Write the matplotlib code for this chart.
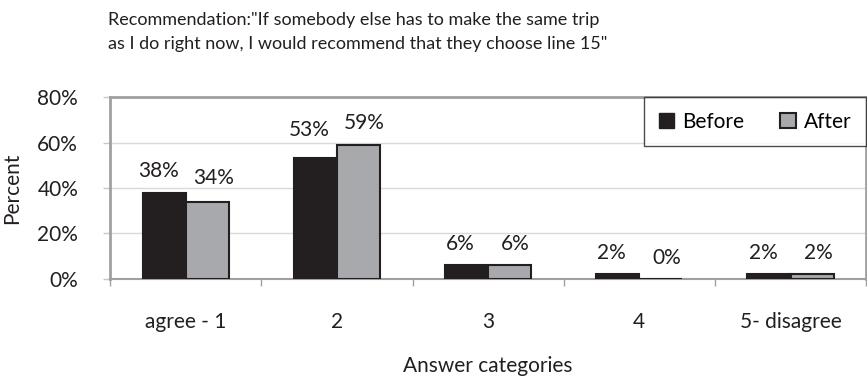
import matplotlib
matplotlib.use("Agg")
import matplotlib.pyplot as plt
import numpy as np
from matplotlib.patches import Patch

categories = ["agree - 1", "2", "3", "4", "5- disagree"]
before = [38, 53, 6, 2, 2]
after = [34, 59, 6, 0, 2]
yticks = [0, 20, 40, 60, 80]

plt.rcParams['font.family'] = ['Lato', 'DejaVu Sans']

fig = plt.figure(figsize=(8.67, 3.76), dpi=100)
ax = fig.add_axes([0.127, 0.258, 0.872, 0.484])

x = np.arange(len(categories))
w = 0.285
c_before = "#231f20"
c_after = "#a7a9ac"
fs = 15
ax.bar(x - w/2, before, w, color=c_before, edgecolor=c_before, linewidth=1.5, zorder=3)
ax.bar(x + w/2, after, w, color=c_after, edgecolor=c_before, linewidth=1.5, zorder=3)

dx = 0.04
for xi, v, o in zip(x, before, after):
    ax.text(xi - w/2 - dx, max(v, o - 3) + 5, f"{v}%", ha="center", va="bottom",
            fontsize=fs, color="#231f20")
for xi, v, o in zip(x, after, before):
    ax.text(xi + w/2 + dx, max(v, o - 3) + 5, f"{v}%", ha="center", va="bottom",
            fontsize=fs, color="#231f20")

ax.set_xlim(-0.5, len(categories) - 0.5)
ax.set_ylim(0, 80)
ax.set_yticks(yticks)
ax.set_yticklabels([f"{t}%" for t in yticks], fontsize=fs, color="#231f20")
ax.set_xticks(x)
ax.set_xticklabels(categories, fontsize=fs, color="#231f20")
ax.tick_params(axis="x", length=0, pad=24)
ax.set_xticks(np.arange(len(categories) + 1) - 0.5, minor=True)
ax.tick_params(axis="x", which="minor", length=5, color="#a0a0a0", width=1)
ax.tick_params(axis="y", length=5, color="#c8c8c8", width=1, pad=18)
ax.yaxis.grid(True, color="#d9d9d9", linewidth=1, zorder=0)
for s in ax.spines.values():
    s.set_color("#a0a0a0")
    s.set_linewidth(2)
ax.spines["bottom"].set_linewidth(1.5)

ax.set_ylabel("Percent", fontsize=fs, color="#231f20", labelpad=11)
ax.set_xlabel("Answer categories", fontsize=fs, color="#231f20", labelpad=17)

fig.text(0.124, 0.915, 'Recommendation:"If somebody else has to make the same trip\nas I do right now, I would recommend that they choose line 15"',
         fontsize=13, color="#231f20", ha="left", va="center", linespacing=1.6)

handles = [Patch(facecolor=c_before, edgecolor=c_before, label="Before"),
           Patch(facecolor=c_after, edgecolor=c_before, linewidth=1.5, label="After")]
leg = ax.legend(handles=handles, loc="upper right", ncol=2, fontsize=fs, frameon=True,
                fancybox=False, edgecolor="#231f20", borderaxespad=0.0,
                handlelength=0.75, handleheight=0.75, columnspacing=1.7, handletextpad=0.4,
                borderpad=0.7)
leg.get_frame().set_linewidth(1)

fig.savefig("out.png", dpi=100)
